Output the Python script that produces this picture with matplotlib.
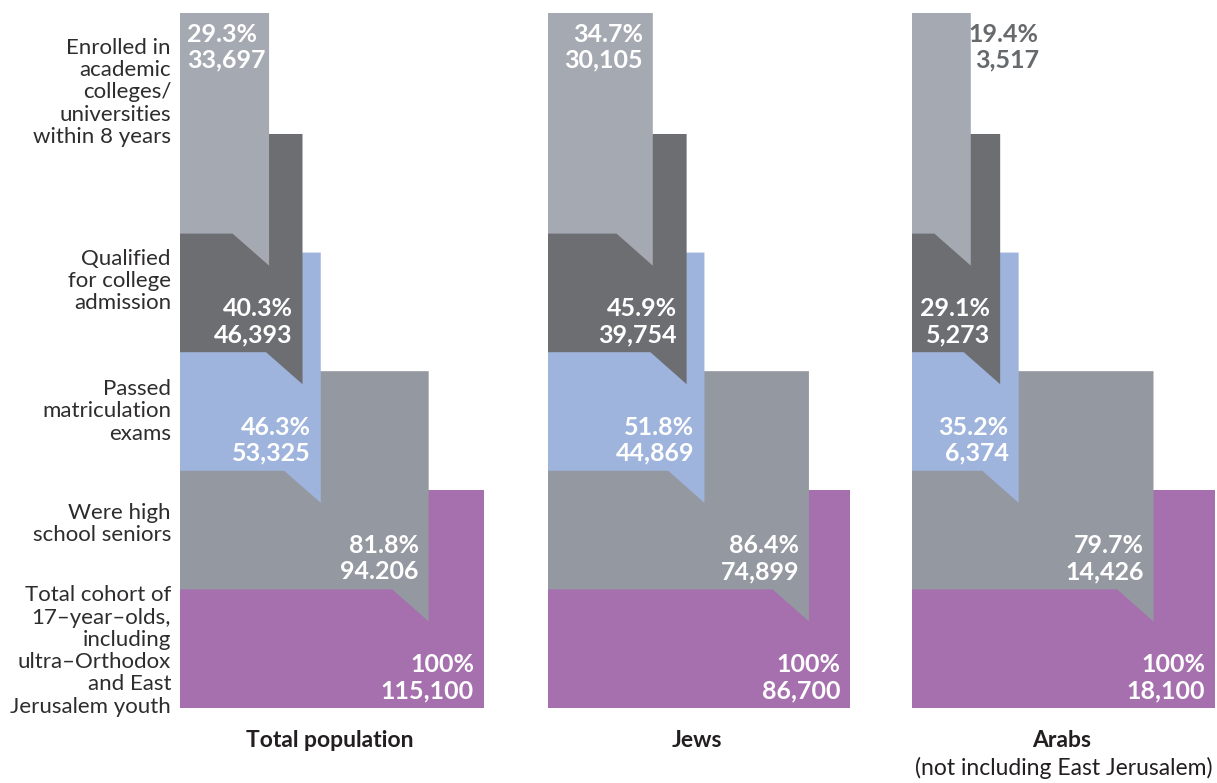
import matplotlib
matplotlib.use('Agg')
from matplotlib import pyplot as plt
from matplotlib.patches import Polygon

plt.rcParams['font.family'] = ['Lato', 'DejaVu Sans']

# stages from the top of the staircase (narrowest) down to the full cohort
stages = [
    'Enrolled in\nacademic\ncolleges/\nuniversities\nwithin 8 years',
    'Qualified\nfor college\nadmission',
    'Passed\nmatriculation\nexams',
    'Were high\nschool seniors',
    'Total cohort of\n17\u2013year\u2013olds,\nincluding\nultra\u2013Orthodox\nand East\nJerusalem youth',
]
groups = ['Total population', 'Jews', 'Arabs']
subtitles = ['', '', '(not including East Jerusalem)']

total_pct = [29.3, 40.3, 46.3, 81.8, 100]
total_n = ['33,697', '46,393', '53,325', '94.206', '115,100']
jews_pct = [34.7, 45.9, 51.8, 86.4, 100]
jews_n = ['30,105', '39,754', '44,869', '74,899', '86,700']
arabs_pct = [19.4, 29.1, 35.2, 79.7, 100]
arabs_n = ['3,517', '5,273', '6,374', '14,426', '18,100']

pcts = [total_pct, jews_pct, arabs_pct]
counts = [total_n, jews_n, arabs_n]
top_label_mode = ['left', 'right', 'outside']

colors = ['#a5a9b1', '#6d6e72', '#9fb4dc', '#9498a0', '#a670ae']
label_dark = '#666a6c'
text_color = '#231f20'

W, H = 1217, 783
PT = 72 / 100  # points per pixel at dpi 100
fig = plt.figure(figsize=(W / 100, H / 100), dpi=100)

panel_x = [(180, 484), (548, 850), (912, 1215)]
panel_y = (13, 708)

TOP = -0.86      # top edge of the first stage column
LIFT = 0.16      # how far a column rises above the band below it
TIP = 0.27       # depth of the arrow point
NOTCH = 12       # horizontal length of the arrow cut (percent units)

label_y = [-0.19, 1.4, 2.5, 3.45, 4.52]

for g, (x0, x1) in enumerate(panel_x):
    ax = fig.add_axes([x0 / W, 1 - panel_y[1] / H,
                       (x1 - x0) / W, (panel_y[1] - panel_y[0]) / H])
    ax.set_xlim(0, 100)
    ax.set_ylim(5, TOP)
    ax.axis('off')

    pct = pcts[g]
    n = counts[g]
    for k in range(len(stages) - 1, -1, -1):
        p = pct[k]
        top = TOP if k == 0 else k - 1 + LIFT
        bot = k + 1
        if k == len(stages) - 1:
            pts = [(0, top), (p, top), (p, bot), (0, bot)]
        else:
            pts = [(0, top), (p, top), (p, bot + TIP), (p - NOTCH, bot), (0, bot)]
        ax.add_patch(Polygon(pts, closed=True, facecolor=colors[k],
                             edgecolor='none'))

        if k == 0:
            mode = top_label_mode[g]
            if mode == 'left':
                x, dx, ha, c = 0, 7, 'left', 'white'
            elif mode == 'right':
                x, dx, ha, c = p, -10, 'right', 'white'
            else:
                x, dx, ha, c = p, 68, 'right', label_dark
            for txt, dy in [(f'{p:g}%', -29), (n[k], -54)]:
                ax.annotate(txt, (x, top), xytext=(dx * PT, dy * PT),
                            textcoords='offset points', ha=ha, va='baseline',
                            fontsize=18, fontweight='bold', color=c,
                            annotation_clip=False)
        else:
            for txt, dy in [(f'{p:g}%', 36), (n[k], 10)]:
                ax.annotate(txt, (p, bot), xytext=(-10 * PT, dy * PT),
                            textcoords='offset points', ha='right',
                            va='baseline', fontsize=18, fontweight='bold',
                            color='white', annotation_clip=False)

    # group name under each staircase
    ax.annotate(groups[g], (50, 5), xytext=(-2 * PT, -39 * PT),
                textcoords='offset points', ha='center', va='baseline',
                fontsize=16.5, fontweight='bold', color=text_color,
                annotation_clip=False)
    if subtitles[g]:
        ax.annotate(subtitles[g], (50, 5), xytext=(0, -67 * PT),
                    textcoords='offset points', ha='center', va='baseline',
                    fontsize=16.5, color=text_color, annotation_clip=False)

    # stage names on the left of the first panel
    if g == 0:
        for k, name in enumerate(stages):
            ax.annotate(name, (0, label_y[k]), xytext=(-9 * PT, 0),
                        textcoords='offset points', ha='right', va='center',
                        fontsize=16, linespacing=1.14, color='#2e2c2d',
                        annotation_clip=False)

plt.savefig('out.png', dpi=100)
